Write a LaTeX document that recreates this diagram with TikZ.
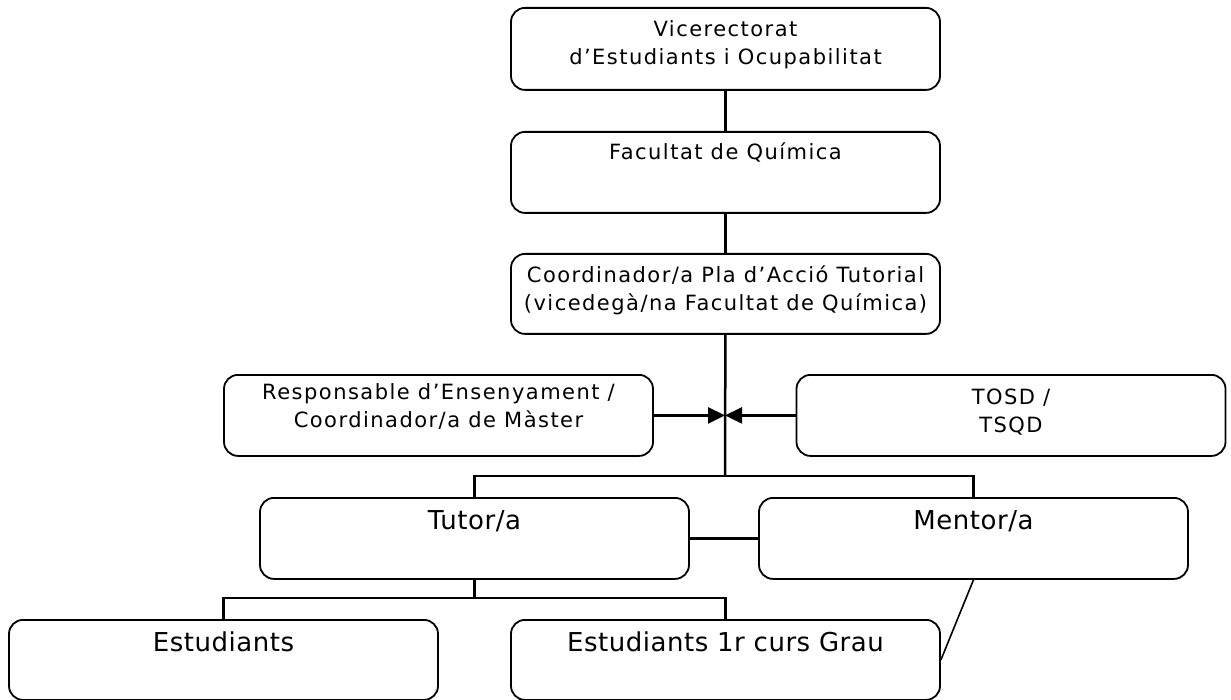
\documentclass[tikz,border=0pt]{standalone}
\usepackage{fontspec}
\setmainfont{DejaVu Sans}
\newfontfamily\boxfont[LetterSpace=7]{DejaVu Sans}
\newfontfamily\bigfont[LetterSpace=2]{DejaVu Sans}
\usetikzlibrary{arrows.meta}

\begin{document}
\begin{tikzpicture}[x=1pt,y=-1pt,
        box/.style={draw, line width=1.8pt, rounded corners=14pt, anchor=north,
            minimum width=429pt, inner ysep=0pt, align=center,
            font=\boxfont\fontsize{21}{28}\selectfont},
        big/.style={font=\bigfont\fontsize{26}{30}\selectfont},
        link/.style={line width=2.5pt},
        feed/.style={link, -{Triangle[length=17pt,width=16pt]}}]
        \useasboundingbox (0,0) rectangle (1231,700);

        % boxes (placed by their top centre, text height = top to last baseline)
        \node[box, text height=57pt, text depth=25pt] (vice) at (725.5,7) {Vicerectorat\\d’Estudiants i Ocupabilitat};
        \node[box, text height=28pt, text depth=53pt] (fac) at (725.5,131) {Facultat de Química};
        \node[box, text height=57pt, text depth=23pt] (coord) at (725.5,253) {Coordinador/a Pla d’Acció Tutorial\\(vicedegà/na Facultat de Química)};
        \node[box, text height=53pt, text depth=28pt] (resp) at (438.5,374) {Responsable d’Ensenyament /\\Coordinador/a de Màster};
        \node[box, text height=58pt, text depth=23pt] (tosd) at (1011,374) {TOSD /\\TSQD};
        \node[box, big, text height=32pt, text depth=49pt] (tutor) at (474.5,497) {Tutor/a};
        \node[box, big, text height=32pt, text depth=49pt] (mentor) at (973.5,497) {Mentor/a};
        \node[box, big, text height=32pt, text depth=48pt] (est) at (223.5,619) {Estudiants};
        \node[box, big, text height=32pt, text depth=48pt] (est1) at (725.5,619) {Estudiants 1r curs Grau};

        \coordinate (split) at (725,476);
        \coordinate (tsplit) at (474.5,598);

        % connectors
        \draw[link] (vice) -- (fac);
        \draw[link] (fac) -- (coord);
        \draw[link] (coord) -- (split);
        \draw[link] (tutor.north) |- (split) -| (mentor.north);
        \draw[feed] (resp.east) -- (resp.east -| split);
        \draw[feed] (tosd.west) -- (tosd.west -| split);
        \draw[link] (tutor) -- (mentor);
        \draw[link] (tutor) -- (tsplit);
        \draw[link] (est.north) |- (tsplit) -| (est1.north);
        \draw[line width=1.6pt] (mentor.south) -- (est1.east);
\end{tikzpicture}
\end{document}
